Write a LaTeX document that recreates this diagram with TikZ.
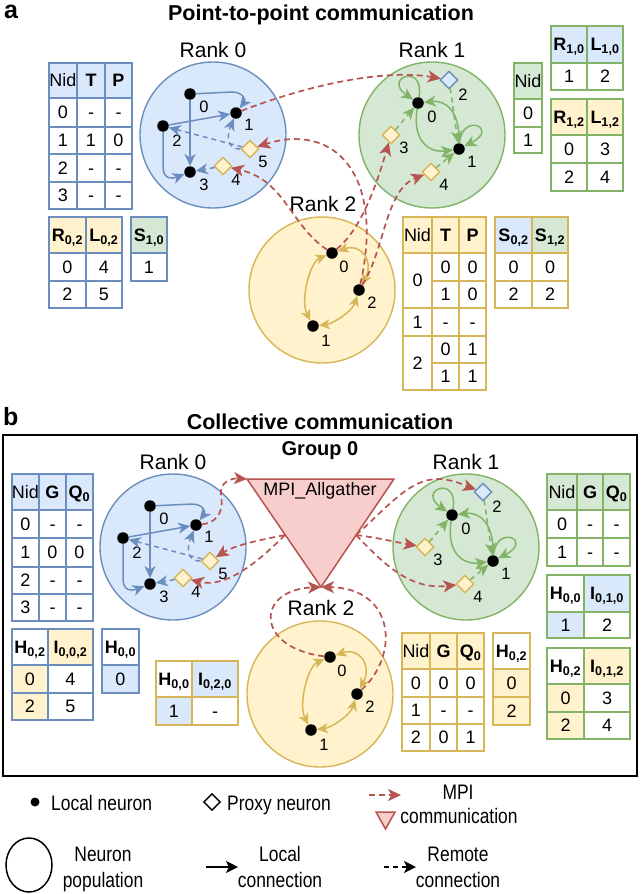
\documentclass[tikz,border=0pt]{standalone}
\usepackage{fontspec}
\setmainfont{Liberation Sans}
\usetikzlibrary{arrows.meta,shapes.geometric}
\definecolor{blueF}{HTML}{DAE8FC}
\definecolor{blueD}{HTML}{6C8EBF}
\definecolor{grnF}{HTML}{D5E8D4}
\definecolor{grnD}{HTML}{82B366}
\definecolor{yelF}{HTML}{FFF2CC}
\definecolor{yelD}{HTML}{D6B656}
\definecolor{redF}{HTML}{F8CECC}
\definecolor{redD}{HTML}{B85450}
\newcommand\tabf{\fontsize{18}{21}\selectfont}
\newcommand\rankf{\fontsize{21}{25}\selectfont}
\newcommand\nlf{\fontsize{16.5}{19}\selectfont}
\newcommand\titf{\fontsize{21.5}{25}\selectfont\bfseries}
\newcommand\grpf{\fontsize{20}{24}\selectfont\bfseries}
\newcommand\abf{\fontsize{25}{29}\selectfont\bfseries}
\newcommand\mpif{\fontsize{18}{21}\selectfont}
\newcommand\legtext[1]{\scalebox{0.83}[1]{\fontsize{21}{25}\selectfont #1}}
\newcommand\bsub[2]{\textbf{#1}\textsubscript{\textbf{#2}}}
\newcommand\tcell[7]{\node[cellbox,#6,minimum width={(#4)-(#2)},minimum height={(#5)-(#3)}] (#1) at ({((#2)+(#4))/2},{((#3)+(#5))/2}) {#7};}
\newcommand\rowthree[7]{\tcell{#1a}{\xA}{#2}{\xB}{#3}{#4}{#5}\tcell{#1b}{\xB}{#2}{\xC}{#3}{#4}{#6}\tcell{#1c}{\xC}{#2}{\xD}{#3}{#4}{#7}}
\newcommand\rowtwo[7]{\tcell{#1a}{\xA}{#2}{\xB}{#3}{#4}{#5}\tcell{#1b}{\xB}{#2}{\xC}{#3}{#6}{#7}}
\tikzset{
 cellbox/.style={draw, line width=1.6pt, inner sep=0pt, outer sep=0pt, fill=white, text height=12.9pt, text depth=0pt, font=\tabf},
 bB/.style={draw=blueD}, bG/.style={draw=grnD}, bY/.style={draw=yelD},
 fB/.style={fill=blueF}, fG/.style={fill=grnF}, fY/.style={fill=yelF},
 pop/.style={circle, line width=1.4pt, minimum size=146pt, inner sep=0pt},
 neu/.style={circle, fill=black, inner sep=0pt, minimum size=11.5pt},
 prx/.style={diamond, line width=1.4pt, inner sep=0pt, minimum size=18pt},
 nl/.style={font=\nlf, inner sep=0pt},
 rl/.style={font=\rankf, anchor=base, inner sep=0pt},
 ah/.style={-{Stealth[length=12pt,width=11pt,inset=3.5pt]}},
 dah/.style={{Stealth[length=11pt,width=10pt,inset=3pt]}-{Stealth[length=11pt,width=10pt,inset=3pt]}},
 le/.style={draw=#1, line width=1.5pt}, le/.default=black,
 dsh/.style={dash pattern=on 5pt off 4pt},
 mpi/.style={draw=redD, line width=1.7pt, dash pattern=on 6pt off 4pt, -{Stealth[length=13pt,width=12pt,inset=3.5pt]}},
 leg/.style={inner sep=0pt},
}
% ---------- rank contents (panel a coordinates) ----------
\newcommand\rankzero[1]{%
 \node[pop, draw=blueD, fill=blueF] (#1c) at (213,135) {};
 \node[rl] (#1t) at (213,57) {Rank 0};
 \node[neu] (#1n0) at (190,94) {};
 \node[neu] (#1n1) at (236,113) {};
 \node[neu] (#1n2) at (163,126) {};
 \node[neu] (#1n3) at (190,172) {};
 \node[prx, draw=yelD, fill=yelF] (#1p5) at (250,149) {};
 \node[prx, draw=yelD, fill=yelF] (#1p4) at (223,166) {};
 \node[nl] (#1l0) at (204,107) {0};
 \node[nl] (#1l1) at (249,125) {1};
 \node[nl] (#1l2) at (177,141) {2};
 \node[nl] (#1l3) at (204,185) {3};
 \node[nl] (#1l5) at (263,162) {5};
 \node[nl] (#1l4) at (236,180) {4};
 \draw[le=blueD, ah] (#1n0) -- (232,92) .. controls (243,92) and (246,100) .. (#1n1);
 \draw[le=blueD, ah] (#1n0) -- (#1n3);
 \draw[le=blueD, ah] (#1n2) -- (#1n1);
 \draw[le=blueD, ah] (#1n2) -- (163,166) .. controls (163,180) and (172,179) .. (#1n3);
 \draw[le=blueD, ah, dsh] (#1p5) -- (#1n2);
 \draw[le=blueD, ah, dsh] (#1p5.west) .. controls (226,149) and (227,135) .. (#1n1);
 \draw[le=blueD, ah, dsh] (#1p4) -- (#1n3);
}
\newcommand\rankone[1]{%
 \node[pop, draw=grnD, fill=grnF] (#1c) at (432,135) {};
 \node[rl] (#1t) at (432,57) {Rank 1};
 \node[prx, draw=blueD, fill=blueF] (#1p2) at (449,80) {};
 \node[neu] (#1n0) at (418,103) {};
 \node[neu] (#1n1) at (459,149) {};
 \node[prx, draw=yelD, fill=yelF] (#1p3) at (391,135) {};
 \node[prx, draw=yelD, fill=yelF] (#1p4) at (431,172) {};
 \node[nl] (#1l2) at (463,95) {2};
 \node[nl] (#1l0) at (432,117) {0};
 \node[nl] (#1l1) at (472,162) {1};
 \node[nl] (#1l3) at (404,148) {3};
 \node[nl] (#1l4) at (444,185) {4};
 \draw[le=grnD, ah] (#1n0) .. controls (425,62) and (382,78) .. (#1n0);
 \draw[le=grnD, ah] (#1n1) .. controls (462,112) and (500,128) .. (#1n1);
 \draw[le=grnD, ah] (#1n0) .. controls (412,142) and (430,153) .. (#1n1);
 \draw[le=grnD, ah] (#1n1) .. controls (460,110) and (445,100) .. (#1n0);
 \draw[le=grnD, ah, dsh] (#1p2) -- (#1n1);
 \draw[le=grnD, ah, dsh] (#1p3) -- (#1n0);
 \draw[le=grnD, ah, dsh] (#1p4) -- (#1n1);
}
\newcommand\ranktwo[1]{%
 \node[pop, draw=yelD, fill=yelF] (#1c) at (322,290) {};
 \node[rl] (#1t) at (323,211) {Rank 2};
 \node[neu] (#1n0) at (332,253) {};
 \node[neu] (#1n2) at (359,290) {};
 \node[neu] (#1n1) at (313,326) {};
 \node[nl] (#1l0) at (344,267) {0};
 \node[nl] (#1l2) at (372,303) {2};
 \node[nl] (#1l1) at (326,341) {1};
 \draw[le=yelD, dah] (#1n0) .. controls (310,262) and (300,300) .. (#1n1);
 \draw[le=yelD, dah] (#1n1) .. controls (332,324) and (352,312) .. (#1n2);
 \draw[le=yelD, dah] (#1n0) .. controls (362,243) and (374,262) .. (#1n2);
}
\begin{document}
\begin{tikzpicture}[x=1pt,y=-1pt]
\useasboundingbox (0,0) rectangle (640,894);
\fill[white] (0,0) rectangle (640,894);
% ================= panel a =================
\node[font=\abf, anchor=base west, inner sep=0pt] (la) at (4,18) {a};
\node[font=\titf, anchor=base, inner sep=0pt] (ta) at (321,20) {Point-to-point communication};
% tables rank 0
\def\xA{49}\def\xB{77}\def\xC{105}\def\xD{132}
\rowthree{A1h}{63}{98}{bB,fB}{Nid}{\textbf{T}}{\textbf{P}}
\rowthree{A1r0}{98}{127}{bB}{0}{-}{-}
\rowthree{A1r1}{127}{154}{bB}{1}{1}{0}
\rowthree{A1r2}{154}{182}{bB}{2}{-}{-}
\rowthree{A1r3}{182}{209}{bB}{3}{-}{-}
\def\xA{49}\def\xB{86}\def\xC{122}
\rowtwo{A2h}{217}{253}{bB,fY}{\bsub{R}{0,2}}{bB,fY}{\bsub{L}{0,2}}
\rowtwo{A2r0}{253}{281}{bB}{0}{bB}{4}
\rowtwo{A2r1}{281}{308}{bB}{2}{bB}{5}
\tcell{A3h}{131}{217}{167}{253}{bB,fG}{\bsub{S}{1,0}}
\tcell{A3r0}{131}{253}{167}{281}{bB}{1}
% tables rank 1
\tcell{A4h}{514}{63}{542}{99}{bG,fG}{Nid}
\tcell{A4r0}{514}{99}{542}{127}{bG}{0}
\tcell{A4r1}{514}{127}{542}{153}{bG}{1}
\def\xA{551}\def\xB{587}\def\xC{623}
\rowtwo{A5h}{26}{63}{bG,fB}{\bsub{R}{1,0}}{bG,fB}{\bsub{L}{1,0}}
\rowtwo{A5r0}{63}{90}{bG}{1}{bG}{2}
\rowtwo{A6h}{99}{135}{bG,fY}{\bsub{R}{1,2}}{bG,fY}{\bsub{L}{1,2}}
\rowtwo{A6r0}{135}{163}{bG}{0}{bG}{3}
\rowtwo{A6r1}{163}{191}{bG}{2}{bG}{4}
% tables rank 2
\def\xA{403}\def\xB{432}\def\xC{459}\def\xD{486}
\rowthree{A7h}{217}{253}{bY,fY}{Nid}{\textbf{T}}{\textbf{P}}
\tcell{A7n0}{403}{253}{432}{308}{bY}{0}
\tcell{A7n1}{403}{308}{432}{336}{bY}{1}
\tcell{A7n2}{403}{336}{432}{390}{bY}{2}
\def\xA{432}\def\xB{459}\def\xC{486}
\rowtwo{A7r0}{253}{281}{bY}{0}{bY}{0}
\rowtwo{A7r1}{281}{308}{bY}{1}{bY}{0}
\rowtwo{A7r2}{308}{336}{bY}{-}{bY}{-}
\rowtwo{A7r3}{336}{363}{bY}{0}{bY}{1}
\rowtwo{A7r4}{363}{390}{bY}{1}{bY}{1}
\def\xA{495}\def\xB{532}\def\xC{568}
\rowtwo{A8h}{217}{253}{bY,fB}{\bsub{S}{0,2}}{bY,fG}{\bsub{S}{1,2}}
\rowtwo{A8r0}{253}{281}{bY}{0}{bY}{0}
\rowtwo{A8r1}{281}{308}{bY}{2}{bY}{2}
% ranks
\rankzero{a0}
\rankone{a1}
\ranktwo{a2}
% MPI point-to-point
\draw[mpi] (a0n1) .. controls (300,88) and (380,68) .. (a1p2);
\draw[mpi] (a2n0) .. controls (290,225) and (285,180) .. (a0p4);
\draw[mpi] (a2n2) .. controls (385,175) and (335,122) .. (a0p5);
\draw[mpi] (a2n0) .. controls (360,230) and (375,190) .. (a1p3);
\draw[mpi] (a2n2) .. controls (385,250) and (385,190) .. (a1p4);
% ================= panel b =================
\node[font=\abf, anchor=base west, inner sep=0pt] (lb) at (3,425) {b};
\node[font=\titf, anchor=base, inner sep=0pt] (tb) at (320,429) {Collective communication};
\draw[line width=1.6pt] (3,435) rectangle (637,776);
\node[font=\grpf, anchor=base, inner sep=0pt] (tg) at (320,455) {Group 0};
% tables rank 0
\def\xA{12}\def\xB{39}\def\xC{66}\def\xD{93}
\rowthree{B1h}{474}{510}{bB,fB}{Nid}{\textbf{G}}{\bsub{Q}{0}}
\rowthree{B1r0}{510}{538}{bB}{0}{-}{-}
\rowthree{B1r1}{538}{567}{bB}{1}{0}{0}
\rowthree{B1r2}{567}{594}{bB}{2}{-}{-}
\rowthree{B1r3}{594}{621}{bB}{3}{-}{-}
\def\xA{12}\def\xB{48}\def\xC{93}
\rowtwo{B2h}{629}{665}{bB}{\bsub{H}{0,2}}{bB,fY}{\bsub{I}{0,0,2}}
\rowtwo{B2r0}{665}{693}{bB,fY}{0}{bB}{4}
\rowtwo{B2r1}{693}{720}{bB,fY}{2}{bB}{5}
\tcell{B3h}{102}{629}{139}{665}{bB}{\bsub{H}{0,0}}
\tcell{B3r0}{102}{665}{139}{693}{bB,fB}{0}
\def\xA{156}\def\xB{192}\def\xC{238}
\rowtwo{B4h}{661}{697}{bY}{\bsub{H}{0,0}}{bY,fB}{\bsub{I}{0,2,0}}
\rowtwo{B4r0}{697}{725}{bY,fB}{1}{bY}{-}
% tables rank 1
\def\xA{547}\def\xB{577}\def\xC{603}\def\xD{630}
\rowthree{B5h}{474}{510}{bG,fG}{Nid}{\textbf{G}}{\bsub{Q}{0}}
\rowthree{B5r0}{510}{538}{bG}{0}{-}{-}
\rowthree{B5r1}{538}{566}{bG}{1}{-}{-}
\def\xA{547}\def\xB{584}\def\xC{630}
\rowtwo{B6h}{575}{612}{bG}{\bsub{H}{0,0}}{bG,fB}{\bsub{I}{0,1,0}}
\rowtwo{B6r0}{612}{638}{bG,fB}{1}{bG}{2}
\rowtwo{B7h}{648}{684}{bG}{\bsub{H}{0,2}}{bG,fY}{\bsub{I}{0,1,2}}
\rowtwo{B7r0}{684}{712}{bG,fY}{0}{bG}{3}
\rowtwo{B7r1}{712}{739}{bG,fY}{2}{bG}{4}
% tables rank 2
\def\xA{402}\def\xB{430}\def\xC{457}\def\xD{484}
\rowthree{B8h}{633}{669}{bY,fY}{Nid}{\textbf{G}}{\bsub{Q}{0}}
\rowthree{B8r0}{669}{697}{bY}{0}{0}{0}
\rowthree{B8r1}{697}{724}{bY}{1}{-}{-}
\rowthree{B8r2}{724}{751}{bY}{2}{0}{1}
\tcell{B9h}{493}{633}{530}{669}{bY}{\bsub{H}{0,2}}
\tcell{B9r0}{493}{669}{530}{697}{bY,fY}{0}
\tcell{B9r1}{493}{697}{530}{725}{bY,fY}{2}
% ranks
\begin{scope}[shift={(-40,412)}]\rankzero{b0}\end{scope}
\begin{scope}[shift={(34,412)}]\rankone{b1}\end{scope}
\begin{scope}[shift={(-2,404)}]\ranktwo{b2}\end{scope}
% MPI_Allgather
\coordinate (tTL) at (247,479);
\coordinate (tTR) at (394,479);
\coordinate (tB) at (321,587);
\coordinate (tL) at (285,535);
\coordinate (tR) at (356,535);
\draw[fill=redF, draw=redD, line width=1.5pt] (tTL) -- (tTR) -- (tB) -- cycle;
\node[font=\mpif, inner sep=0pt] (mpi) at (320,491) {MPI\_Allgather};
\draw[mpi] (b0n1) .. controls (222,522) and (223,505) .. (221,495) .. controls (219,482) and (232,478) .. (tTL);
\draw[mpi] (tL) .. controls (260,540) and (235,545) .. (b0p5);
\draw[mpi] (tL) .. controls (255,565) and (225,588) .. (b0p4);
\draw[mpi] (tR) .. controls (380,538) and (400,543) .. (b1p3);
\draw[mpi] (tR) .. controls (385,565) and (410,590) .. (b1p4);
\draw[mpi] (tR) .. controls (390,505) and (410,478) .. (440,479) .. controls (455,480) and (466,486) .. (b1p2);
\draw[mpi] (b2n0) .. controls (255,648) and (255,590) .. (tB);
\draw[mpi] (b2n2) .. controls (400,655) and (395,588) .. (tB);
% ================= legend =================
\node[neu, minimum size=9pt] (lgdot) at (35,802) {};
\node[leg, anchor=base west] (lgdott) at (51,810) {\legtext{Local neuron}};
\node[prx, draw=black, fill=white, minimum size=17pt] (lgdia) at (212,802) {};
\node[leg, anchor=base west] (lgdiat) at (227,810) {\legtext{Proxy neuron}};
\coordinate (lgm1) at (369,795);
\coordinate (lgm2) at (401,795);
\draw[mpi] (lgm1) -- (lgm2);
\draw[fill=redF, draw=redD, line width=1.5pt] (376,812) -- (395,812) -- (385.5,829) -- cycle;
\node[leg, anchor=base] (lgm3) at (458,799) {\legtext{MPI}};
\node[leg, anchor=base] (lgm4) at (459,823) {\legtext{communication}};
\node[ellipse, draw=black, line width=1.5pt, minimum width=46pt, minimum height=54pt, inner sep=0pt] (lgpop) at (29,865) {};
\node[leg, anchor=base] (lgpopa) at (103,861) {\legtext{Neuron}};
\node[leg, anchor=base] (lgpopb) at (103,887) {\legtext{population}};
\coordinate (lgl1) at (206,867);
\coordinate (lgl2) at (238,867);
\draw[line width=1.5pt, -{Stealth[length=12pt,width=12pt,inset=3pt]}] (lgl1) -- (lgl2);
\node[leg, anchor=base] (lgla) at (280,861) {\legtext{Local}};
\node[leg, anchor=base] (lglb) at (280,887) {\legtext{connection}};
\coordinate (lgr1) at (384,867);
\coordinate (lgr2) at (416,867);
\draw[line width=1.5pt, dash pattern=on 5pt off 4pt, -{Stealth[length=12pt,width=12pt,inset=3pt]}] (lgr1) -- (lgr2);
\node[leg, anchor=base] (lgra) at (458,861) {\legtext{Remote}};
\node[leg, anchor=base] (lgrb) at (458,887) {\legtext{connection}};
\end{tikzpicture}
\end{document}
